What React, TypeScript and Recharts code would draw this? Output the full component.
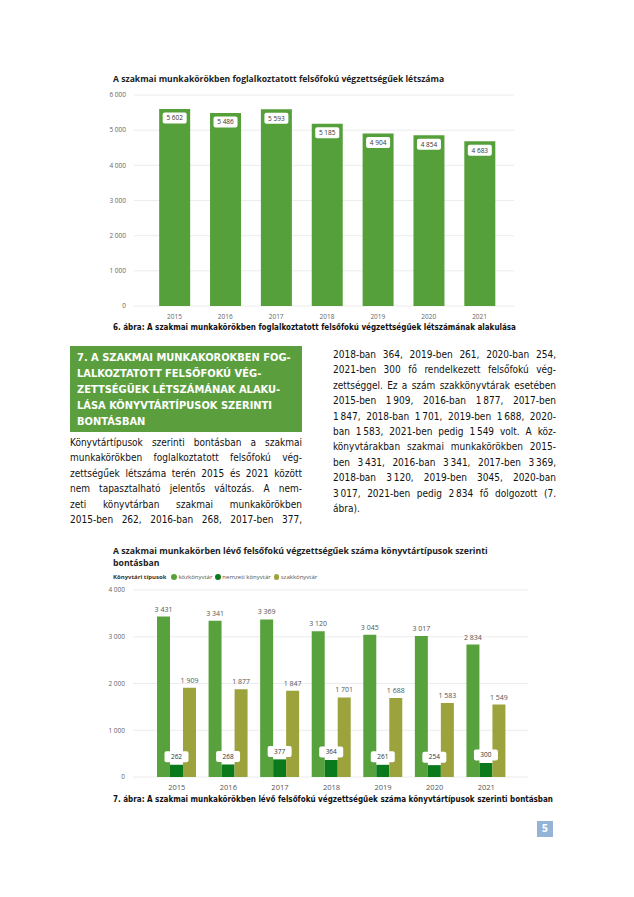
import React from "react";
import { Bar, BarChart, CartesianGrid, LabelList, XAxis, YAxis } from "recharts";

const years = ["2015", "2016", "2017", "2018", "2019", "2020", "2021"];
const totalStaff = [5602, 5486, 5593, 5185, 4904, 4854, 4683];
const publicLib = [3431, 3341, 3369, 3120, 3045, 3017, 2834];
const nationalLib = [262, 268, 377, 364, 261, 254, 300];
const specialLib = [1909, 1877, 1847, 1701, 1688, 1583, 1549];
const ticksTotal = [0, 1000, 2000, 3000, 4000, 5000, 6000];
const ticksTypes = [0, 1000, 2000, 3000, 4000];
const seriesNames = ["közkönyvtár", "nemzeti könyvtár", "szakkönyvtár"];
const seriesColors = ["#58a23e", "#0b7a1c", "#9ca33c"];

const data1 = years.map((y, i) => ({ year: y, total: totalStaff[i] }));
const data2 = years.map((y, i) => ({
  year: y,
  pub: publicLib[i],
  nat: nationalLib[i],
  spec: specialLib[i],
}));

// thousands separator as a non-breaking space so the axis text does not wrap
const fmt = (v: any) => String(v).replace(/\B(?=(\d{3})+(?!\d))/g, "\u00A0");

const chartFont = "'Open Sans', 'Noto Sans', sans-serif";
const docFont = "'DejaVu Sans Condensed', 'DejaVu Sans', sans-serif";

const BoxLabel = (shift: number) => (props: any) => {
  const { x, y, width, value } = props;
  const cx = x + width / 2;
  const cy = y + shift;
  return (
    <g>
      <rect x={cx - 12} y={cy - 5.5} width={24} height={11} rx={2} fill="#fff" />
      <text x={cx} y={cy + 2.3} textAnchor="middle" fontSize={6.5} fill="#333" fontFamily={chartFont}>
        {fmt(value)}
      </text>
    </g>
  );
};

const TopLabel = (props: any) => {
  const { x, y, width, value } = props;
  return (
    <text x={x + width / 2} y={y - 5} textAnchor="middle" fontSize={7} fill="#555" fontFamily={chartFont}>
      {fmt(value)}
    </text>
  );
};

const leftLines = [
  "Könyvtártípusok szerinti bontásban a szakmai",
  "munkakörökben foglalkoztatott felsőfokú vég-",
  "zettségűek létszáma terén 2015 és 2021 között",
  "nem tapasztalható jelentős változás.  A nem-",
  "zeti könyvtárban szakmai munkakörökben",
  "2015-ben 262, 2016-ban 268, 2017-ben 377,",
];
const rightLines = [
  "2018-ban 364, 2019-ben 261, 2020-ban 254,",
  "2021-ben 300 fő rendelkezett felsőfokú vég-",
  "zettséggel. Ez a szám szakkönyvtárak esetében",
  "2015-ben 1\u202F909, 2016-ban 1\u202F877, 2017-ben",
  "1\u202F847, 2018-ban 1\u202F701, 2019-ben 1\u202F688, 2020-",
  "ban 1\u202F583, 2021-ben pedig 1\u202F549 volt. A köz-",
  "könyvtárakban szakmai munkakörökben 2015-",
  "ben 3\u202F431, 2016-ban 3\u202F341, 2017-ben 3\u202F369,",
  "2018-ban 3\u202F120, 2019-ben 3045, 2020-ban",
  "3\u202F017, 2021-ben pedig 2\u202F834 fő dolgozott (7.",
  "ábra).",
];
const headingLines = [
  "7. A SZAKMAI MUNKAKOROKBEN FOG-",
  "LALKOZTATOTT FELSŐFOKÚ VÉG-",
  "ZETTSÉGŰEK LÉTSZÁMÁNAK ALAKU-",
  "LÁSA KÖNYVTÁRTÍPUSOK SZERINTI",
  "BONTÁSBAN",
];

function Lines({ lines, last }: { lines: string[]; last: boolean }) {
  return (
    <>
      {lines.map((l, i) => {
        const isLast = last && i === lines.length - 1;
        return (
          <div
            key={i}
            style={{
              textAlign: isLast ? "left" : "justify",
              textAlignLast: isLast ? "left" : "justify",
              height: 15.4,
              lineHeight: "15.4px",
            }}
          >
            {l}
          </div>
        );
      })}
    </>
  );
}

export default function App() {
  const abs = (left: number, top: number, extra: any = {}) => ({
    position: "absolute" as const,
    left,
    top,
    ...extra,
  });
  return (
    <div style={{ position: "absolute", left: 0, top: 0, width: 634, height: 897, background: "#fff", overflow: "hidden" }}>
      <div style={abs(113, 73, { fontFamily: chartFont, fontWeight: 700, fontSize: 8.6, color: "#222", whiteSpace: "nowrap" })}>
        A szakmai munkakörökben foglalkoztatott felsőfokú végzettségűek létszáma
      </div>
      <div style={abs(100, 88)}>
        <BarChart width={430} height={240} data={data1} margin={{ top: 7, right: 16, left: 0, bottom: 6 }} barCategoryGap="20%">
          <CartesianGrid vertical={false} stroke="#ececec" />
          <XAxis
            dataKey="year"
            height={16}
            tickLine={false}
            axisLine={false}
            padding={{ left: 15, right: 9 }}
            tick={{ fontSize: 6.5, fill: "#666", fontFamily: chartFont }}
          />
          <YAxis
            width={34}
            domain={[0, 6000]}
            ticks={ticksTotal}
            tickLine={false}
            axisLine={false}
            tickFormatter={fmt}
            tick={{ fontSize: 6.5, fill: "#666", fontFamily: chartFont }}
          />
          <Bar dataKey="total" fill="#55a03a" isAnimationActive={false}>
            <LabelList dataKey="total" content={BoxLabel(9)} />
          </Bar>
        </BarChart>
      </div>
      <div style={abs(113, 323, { fontFamily: docFont, fontWeight: 700, fontSize: 8, color: "#111", whiteSpace: "nowrap" })}>
        6. ábra: A szakmai munkakörökben foglalkoztatott felsőfokú végzettségűek létszámának alakulása
      </div>

      <div style={abs(70, 346, { width: 232, height: 86, background: "#5a9e3e", color: "#fff", fontFamily: docFont, fontWeight: 700, fontSize: 11, boxSizing: "border-box", padding: "4px 0 0 7px" })}>
        {headingLines.map((l, i) => (
          <div key={i} style={{ height: 16, lineHeight: "16px", whiteSpace: "nowrap" }}>{l}</div>
        ))}
      </div>
      <div style={abs(70, 435, { width: 232, fontFamily: docFont, fontSize: 10, color: "#111" })}>
        <Lines lines={leftLines} last={false} />
      </div>
      <div style={abs(333, 347, { width: 223, fontFamily: docFont, fontSize: 10, color: "#111" })}>
        <Lines lines={rightLines} last={true} />
      </div>

      <div style={abs(113, 545, { fontFamily: chartFont, fontWeight: 700, fontSize: 8.7, color: "#222", lineHeight: "12px", width: 430, whiteSpace: "nowrap" })}>
        A szakmai munkakörben lévő felsőfokú végzettségűek száma könyvtártípusok szerinti
        <br />
        bontásban
      </div>
      <div style={abs(113, 573, { fontFamily: chartFont, fontSize: 6, color: "#555", whiteSpace: "nowrap", display: "flex", alignItems: "center" })}>
        <span style={{ fontWeight: 700, color: "#333", marginRight: 5 }}>Könyvtári típusok</span>
        {seriesNames.map((n, i) => (
          <span key={n} style={{ display: "inline-flex", alignItems: "center", marginRight: 3 }}>
            <span style={{ width: 5.5, height: 5.5, borderRadius: 3, background: seriesColors[i], marginRight: 1.5, display: "inline-block" }} />
            {n}
          </span>
        ))}
      </div>
      <div style={abs(100, 585)}>
        <BarChart width={430} height={212} data={data2} margin={{ top: 5, right: 2, left: 0, bottom: 4 }} barGap={0} barSize={13}>
          <CartesianGrid vertical={false} stroke="#ececec" />
          <XAxis
            dataKey="year"
            height={16}
            tickLine={false}
            axisLine={false}
            padding={{ left: 18, right: 16 }}
            tick={{ fontSize: 7.5, fill: "#555", fontFamily: chartFont }}
          />
          <YAxis
            width={33}
            domain={[0, 4000]}
            ticks={ticksTypes}
            tickLine={false}
            axisLine={false}
            tickFormatter={fmt}
            tick={{ fontSize: 6.5, fill: "#666", fontFamily: chartFont }}
          />
          <Bar dataKey="pub" name={seriesNames[0]} fill={seriesColors[0]} isAnimationActive={false}>
            <LabelList dataKey="pub" content={TopLabel} />
          </Bar>
          <Bar dataKey="nat" name={seriesNames[1]} fill={seriesColors[1]} isAnimationActive={false}>
            <LabelList dataKey="nat" content={BoxLabel(-8)} />
          </Bar>
          <Bar dataKey="spec" name={seriesNames[2]} fill={seriesColors[2]} isAnimationActive={false}>
            <LabelList dataKey="spec" content={TopLabel} />
          </Bar>
        </BarChart>
      </div>
      <div style={abs(113, 795, { fontFamily: docFont, fontWeight: 700, fontSize: 8, color: "#111", whiteSpace: "nowrap" })}>
        7. ábra: A szakmai munkakörökben lévő felsőfokú végzettségűek száma könyvtártípusok szerinti bontásban
      </div>

      <div style={abs(537, 821, { width: 16, height: 16, background: "#95b3d7", color: "#fff", fontFamily: docFont, fontWeight: 700, fontSize: 10, textAlign: "center", lineHeight: "16px" })}>
        5
      </div>
    </div>
  );
}
